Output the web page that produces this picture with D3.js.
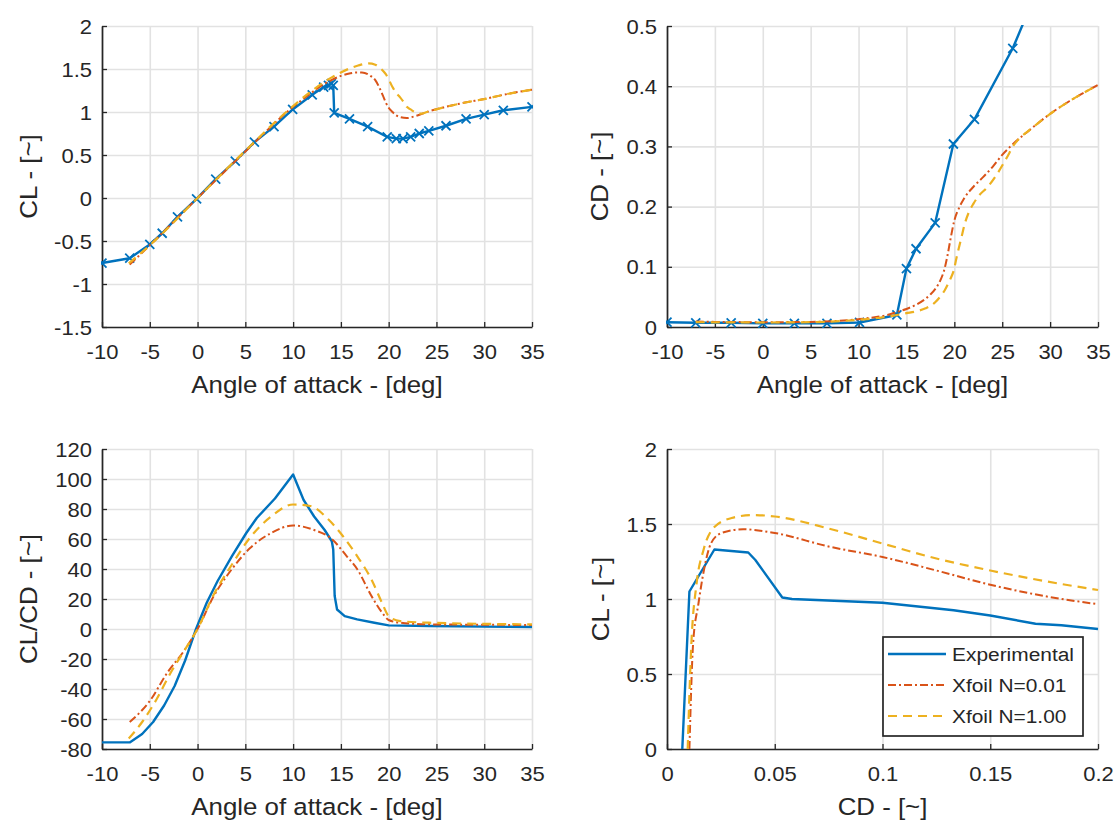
<!DOCTYPE html>
<html>
<head>
<meta charset="utf-8">
<script src="https://cdn.jsdelivr.net/npm/d3@7"></script>
<style>
  html, body { margin: 0; padding: 0; background: #fff; }
  svg text { font-family: "Liberation Sans", Arial, Helvetica, sans-serif; fill: #262626; }
</style>
</head>
<body>
<svg id="fig" width="1120" height="822"></svg>
<script>
// ---------- tick values ----------
const alphaTicks = [-10, -5, 0, 5, 10, 15, 20, 25, 30, 35];
const clTicks = [-1.5, -1, -0.5, 0, 0.5, 1, 1.5, 2];
const cdTicks = [0, 0.1, 0.2, 0.3, 0.4, 0.5];
const ldTicks = [-80, -60, -40, -20, 0, 20, 40, 60, 80, 100, 120];
const polarCDTicks = [0, 0.05, 0.1, 0.15, 0.2];
const polarCLTicks = [0, 0.5, 1, 1.5, 2];

const seriesNames = ["Experimental", "Xfoil N=0.01", "Xfoil N=1.00"];

// ---------- lift coefficient vs angle of attack ----------
const expAlphaCL = [-10, -7.1, -5.0, -3.7, -2.1, -0.1, 1.9, 3.95, 5.95, 8.0, 9.95, 12.0, 13.2, 13.7, 14.0, 14.2, 14.3, 15.9, 17.8, 19.85, 20.8, 21.5, 22.3, 23.2, 24.2, 26.0, 28.1, 30.0, 32.0, 35.0];
const expCL = [-0.756, -0.70, -0.54, -0.41, -0.22, -0.01, 0.22, 0.43, 0.65, 0.83, 1.03, 1.20, 1.29, 1.31, 1.33, 1.31, 0.99, 0.92, 0.83, 0.71, 0.69, 0.69, 0.71, 0.75, 0.78, 0.84, 0.92, 0.97, 1.02, 1.06];

const xfAlphaCL001 = [-7.1, -5, 0, 5, 10, 12, 13, 14, 15, 16, 16.5, 17.2, 18.1, 18.6, 19.0, 19.4, 19.7, 20.0, 20.4, 20.8, 21.2, 21.9, 23.0, 24, 26, 28, 30, 32, 35];
const xfCL001 = [-0.775, -0.55, 0.0, 0.54, 1.06, 1.23, 1.31, 1.37, 1.42, 1.45, 1.46, 1.46, 1.42, 1.37, 1.29, 1.19, 1.11, 1.05, 1.0, 0.96, 0.94, 0.93, 0.96, 1.0, 1.06, 1.11, 1.15, 1.20, 1.26];

const xfAlphaCL100 = [-7.2, -5, 0, 5, 10, 12, 13, 14, 15, 16, 16.8, 17.9, 18.6, 19.0, 19.4, 19.7, 20.0, 20.4, 20.8, 21.2, 21.6, 21.9, 22.3, 22.7, 23.4, 24, 26, 28, 30, 32, 35];
const xfCL100 = [-0.76, -0.55, 0.0, 0.55, 1.07, 1.25, 1.33, 1.40, 1.46, 1.51, 1.54, 1.565, 1.55, 1.52, 1.48, 1.44, 1.38, 1.29, 1.22, 1.17, 1.11, 1.06, 1.03, 1.0, 0.98, 1.0, 1.06, 1.11, 1.15, 1.20, 1.26];

// ---------- drag coefficient vs angle of attack ----------
const expAlphaCD = [-10, -7, -3.3, 0, 3.3, 6.7, 10.1, 14.0, 15.0, 16.0, 18.0, 19.9, 22.1, 26.1, 28, 30, 35];
const expCD = [0.008, 0.007, 0.007, 0.006, 0.006, 0.006, 0.0075, 0.02, 0.097, 0.13, 0.173, 0.304, 0.345, 0.463, 0.535, 0.60, 0.78];

const xfAlphaCD001 = [-7, -5, 0, 5, 10, 12, 13, 14, 15, 16, 17, 17.5, 18, 18.5, 19, 19.3, 19.6, 20, 20.5, 21, 22, 23, 24, 25, 26, 28, 30, 32, 35];
const xfCD001 = [0.009, 0.0085, 0.008, 0.0085, 0.013, 0.017, 0.020, 0.025, 0.030, 0.037, 0.047, 0.054, 0.063, 0.076, 0.098, 0.12, 0.146, 0.177, 0.198, 0.213, 0.233, 0.249, 0.266, 0.286, 0.302, 0.329, 0.354, 0.375, 0.402];

const xfAlphaCD100 = [-7, 0, 5, 10, 12, 13, 14, 15, 16, 17, 18, 18.5, 19, 19.5, 19.9, 20.3, 20.7, 21.1, 21.5, 22, 22.5, 23.5, 24.5, 25.5, 26.2, 26.6, 28, 30, 32, 35];
const xfCD100 = [0.008, 0.0075, 0.008, 0.012, 0.015, 0.017, 0.020, 0.023, 0.026, 0.031, 0.041, 0.050, 0.061, 0.077, 0.092, 0.12, 0.146, 0.172, 0.19, 0.205, 0.217, 0.233, 0.255, 0.282, 0.302, 0.310, 0.329, 0.354, 0.375, 0.402];

// ---------- lift-to-drag ratio vs angle of attack ----------
const expAlphaLD = [-10, -7.1, -5.8, -4.65, -3.5, -2.4, -1.3, -0.16, 0.96, 2.1, 3.6, 5.1, 6.2, 8.1, 10.0, 11.1, 12.2, 13.3, 14.05, 14.2, 14.35, 14.6, 15.4, 16.7, 18.5, 20, 24.2, 35];
const expLD = [-75.6, -75.6, -70, -62, -51, -38, -21, 0, 17.5, 32, 48.6, 64, 74, 87, 103, 86, 75, 66, 58.5, 53, 22, 13, 8.6, 6.4, 4.2, 2.4, 2, 1.3];

const xfAlphaLD001 = [-7.1, -5, -3.15, -1.3, 0, 1.7, 3.6, 5.5, 7.7, 10, 12.2, 14.05, 15.6, 16.7, 18.2, 19.3, 20, 21.2, 24.2, 35];
const xfLD001 = [-62, -48, -29, -13.5, 0, 22, 40, 54, 64, 69, 66, 60, 48.6, 40, 22, 11, 6, 4.2, 3.1, 2.7];

const xfAlphaLD100 = [-7.2, -5.8, -4.3, -2.8, -1.3, 0, 1.7, 3.6, 5.5, 7.7, 10, 11.8, 13.7, 15.2, 16.7, 18.2, 19.3, 20, 21.2, 24.2, 35];
const xfLD100 = [-73, -62, -47, -29, -13.5, 0, 23, 43, 61, 75, 83, 82, 73, 62, 48.6, 33, 17.5, 8.6, 5.3, 4.2, 3.1];

// ---------- drag polar (CL vs CD) ----------
const expPolarCD = [0.0071, 0.0104, 0.022, 0.0377, 0.041, 0.0535, 0.058, 0.1, 0.133, 0.15, 0.171, 0.183, 0.2];
const expPolarCL = [0, 1.05, 1.33, 1.31, 1.26, 1.01, 1.0, 0.975, 0.925, 0.89, 0.835, 0.825, 0.80];

const xfPolarCD001 = [0.0104, 0.0121, 0.0146, 0.0171, 0.0204, 0.0253, 0.0353, 0.050, 0.075, 0.1, 0.125, 0.15, 0.175, 0.2];
const xfPolarCL001 = [0, 0.70, 0.97, 1.19, 1.37, 1.44, 1.465, 1.44, 1.35, 1.28, 1.19, 1.095, 1.02, 0.965];

const xfPolarCD100 = [0.0096, 0.0113, 0.0137, 0.017, 0.022, 0.030, 0.040, 0.050, 0.075, 0.1, 0.125, 0.15, 0.175, 0.2];
const xfPolarCL100 = [0, 0.70, 1.10, 1.33, 1.48, 1.54, 1.56, 1.55, 1.47, 1.37, 1.27, 1.19, 1.12, 1.06];

// ---------- styling ----------
const STYLE = {
  exp:   { color: "#0072BD", width: 2.4, dash: null },
  n001:  { color: "#D95319", width: 2.0, dash: "8,3,2,3" },
  n100:  { color: "#EDB120", width: 2.2, dash: "9,6" }
};
const SX = 1.1;            // horizontal glyph stretch of all text
const TICK_FONT = 20;
const LABEL_FONT = 23.5;
const LEGEND_FONT = 19;
const AXIS_COLOR = "#262626";
const GRID_COLOR = "#e2e2e2";

const fmt = v => String(+v.toFixed(4));
const svg = d3.select("#fig");
let clipId = 0;

function panel(cfg) {
  const w = cfg.x1 - cfg.x0, h = cfg.y1 - cfg.y0;
  const g = svg.append("g").attr("transform", `translate(${cfg.x0},${cfg.y0})`);
  const x = d3.scaleLinear().domain(cfg.xDomain).range([0, w]);
  const y = d3.scaleLinear().domain(cfg.yDomain).range([h, 0]);

  // grid
  const gx = g.append("g").attr("transform", `translate(0,${h})`)
    .call(d3.axisBottom(x).tickValues(cfg.xTicks).tickSize(-h).tickFormat(""));
  const gy = g.append("g")
    .call(d3.axisLeft(y).tickValues(cfg.yTicks).tickSize(-w).tickFormat(""));
  [gx, gy].forEach(s => {
    s.select(".domain").remove();
    s.selectAll("line").attr("stroke", GRID_COLOR).attr("stroke-width", 1.6);
  });

  // axes (ticks pointing inward)
  const ax = g.append("g").attr("transform", `translate(0,${h})`)
    .call(d3.axisBottom(x).tickValues(cfg.xTicks).tickSizeInner(-5).tickSizeOuter(0).tickFormat(fmt));
  const ay = g.append("g")
    .call(d3.axisLeft(y).tickValues(cfg.yTicks).tickSizeInner(-5).tickSizeOuter(0).tickFormat(fmt));
  [ax, ay].forEach(s => {
    s.select(".domain").attr("stroke", AXIS_COLOR).attr("stroke-width", 1.7);
    s.selectAll(".tick line").attr("stroke", AXIS_COLOR).attr("stroke-width", 1.3);
    s.selectAll("text").attr("font-size", TICK_FONT).attr("fill", AXIS_COLOR)
      .attr("font-family", null);
  });
  ax.selectAll("text").attr("y", 32).attr("dy", null)
    .attr("transform", `scale(${SX},1)`);
  ay.selectAll("text").attr("x", -10 / SX).attr("dy", "0.35em")
    .attr("transform", `scale(${SX},1)`);

  // axis labels
  g.append("text")
    .attr("transform", `translate(${w / 2},${h + 66}) scale(${SX},1)`)
    .attr("text-anchor", "middle").attr("font-size", LABEL_FONT)
    .text(cfg.xLabel);
  g.append("text")
    .attr("transform", `translate(${cfg.yLabelX},${h / 2}) rotate(-90) scale(${SX},1)`)
    .attr("text-anchor", "middle").attr("font-size", LABEL_FONT)
    .text(cfg.yLabel);

  // data
  const id = "clip" + (clipId++);
  g.append("clipPath").attr("id", id).append("rect")
    .attr("x", -1).attr("y", -1).attr("width", w + 2).attr("height", h + 2);
  const plot = g.append("g").attr("clip-path", `url(#${id})`);

  cfg.series.forEach(s => {
    const pts = d3.zip(s.x, s.y);
    const line = d3.line().x(d => x(d[0])).y(d => y(d[1]))
      .curve(s.smooth ? d3.curveMonotoneX : d3.curveLinear);
    plot.append("path").datum(pts)
      .attr("fill", "none")
      .attr("stroke", s.style.color)
      .attr("stroke-width", s.style.width)
      .attr("stroke-dasharray", s.style.dash)
      .attr("stroke-linejoin", "round")
      .attr("d", line);
    if (s.markers) {
      plot.append("g").selectAll("path").data(pts).join("path")
        .attr("transform", d => `translate(${x(d[0])},${y(d[1])})`)
        .attr("d", "M-4.5,-4.5L4.5,4.5M-4.5,4.5L4.5,-4.5")
        .attr("fill", "none")
        .attr("stroke", s.style.color)
        .attr("stroke-width", 1.8);
    }
  });
  return { g, x, y, w, h };
}

// top-left: CL vs alpha
panel({
  x0: 102, x1: 532, y0: 26, y1: 327,
  xDomain: [-10, 35], yDomain: [-1.5, 2],
  xTicks: alphaTicks, yTicks: clTicks,
  xLabel: "Angle of attack - [deg]", yLabel: "CL - [~]", yLabelX: -65,
  series: [
    { x: expAlphaCL, y: expCL, style: STYLE.exp, markers: true },
    { x: xfAlphaCL001, y: xfCL001, style: STYLE.n001, smooth: true },
    { x: xfAlphaCL100, y: xfCL100, style: STYLE.n100, smooth: true }
  ]
});

// top-right: CD vs alpha
panel({
  x0: 667, x1: 1098, y0: 26, y1: 327,
  xDomain: [-10, 35], yDomain: [0, 0.5],
  xTicks: alphaTicks, yTicks: cdTicks,
  xLabel: "Angle of attack - [deg]", yLabel: "CD - [~]", yLabelX: -59,
  series: [
    { x: expAlphaCD, y: expCD, style: STYLE.exp, markers: true },
    { x: xfAlphaCD001, y: xfCD001, style: STYLE.n001, smooth: true },
    { x: xfAlphaCD100, y: xfCD100, style: STYLE.n100, smooth: true }
  ]
});

// bottom-left: CL/CD vs alpha
panel({
  x0: 102, x1: 532, y0: 449, y1: 749,
  xDomain: [-10, 35], yDomain: [-80, 120],
  xTicks: alphaTicks, yTicks: ldTicks,
  xLabel: "Angle of attack - [deg]", yLabel: "CL/CD - [~]", yLabelX: -65,
  series: [
    { x: expAlphaLD, y: expLD, style: STYLE.exp },
    { x: xfAlphaLD001, y: xfLD001, style: STYLE.n001, smooth: true },
    { x: xfAlphaLD100, y: xfLD100, style: STYLE.n100, smooth: true }
  ]
});

// bottom-right: drag polar
panel({
  x0: 667, x1: 1098, y0: 449, y1: 749,
  xDomain: [0, 0.2], yDomain: [0, 2],
  xTicks: polarCDTicks, yTicks: polarCLTicks,
  xLabel: "CD - [~]", yLabel: "CL - [~]", yLabelX: -58,
  series: [
    { x: expPolarCD, y: expPolarCL, style: STYLE.exp },
    { x: xfPolarCD001, y: xfPolarCL001, style: STYLE.n001, smooth: true },
    { x: xfPolarCD100, y: xfPolarCL100, style: STYLE.n100, smooth: true }
  ]
});

// legend
const legend = svg.append("g").attr("transform", "translate(883,637)");
legend.append("rect")
  .attr("width", 200).attr("height", 99)
  .attr("fill", "#fff").attr("stroke", AXIS_COLOR).attr("stroke-width", 1.7);
[STYLE.exp, STYLE.n001, STYLE.n100].forEach((st, i) => {
  const yy = 17 + i * 31;
  legend.append("line")
    .attr("x1", 5).attr("x2", 63).attr("y1", yy).attr("y2", yy)
    .attr("stroke", st.color).attr("stroke-width", st.width)
    .attr("stroke-dasharray", st.dash);
  legend.append("text")
    .attr("transform", `translate(69,${yy}) scale(${SX},1)`)
    .attr("dy", "0.35em").attr("font-size", LEGEND_FONT)
    .text(seriesNames[i]);
});
</script>
</body>
</html>
